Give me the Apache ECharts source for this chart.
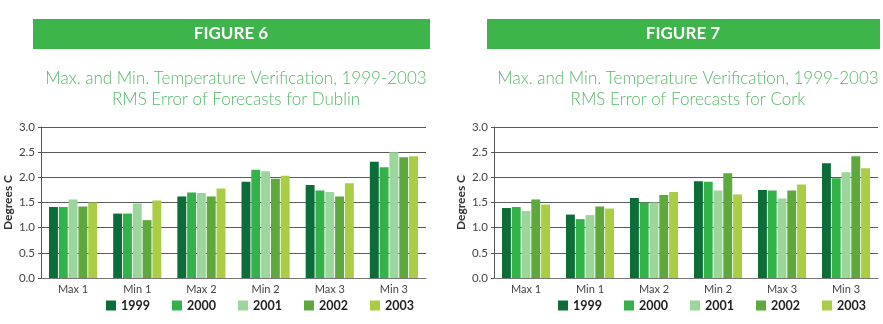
<!DOCTYPE html>
<html>
<head>
<meta charset="utf-8">
<script src="https://cdn.jsdelivr.net/npm/echarts@6/dist/echarts.min.js"></script>
<style>
  html, body { margin: 0; padding: 0; background: #fff; }
  #chart { width: 883px; height: 324px; }
</style>
</head>
<body>
<div id="chart"></div>
<script>
const chartElement = document.getElementById('chart');
const myChart = echarts.init(chartElement);

const categories = ['Max 1', 'Min 1', 'Max 2', 'Min 2', 'Max 3', 'Min 3'];
const years = ['1999', '2000', '2001', '2002', '2003'];
const yearColors = ['#0b6e38', '#34b24a', '#9cd69c', '#5fa83e', '#a9cd45'];

// RMS error, Dublin (figure 6), one array per year
const dublin1999 = [1.41, 1.28, 1.62, 1.91, 1.85, 2.31];
const dublin2000 = [1.41, 1.28, 1.70, 2.15, 1.74, 2.20];
const dublin2001 = [1.56, 1.48, 1.69, 2.12, 1.71, 2.50];
const dublin2002 = [1.42, 1.15, 1.62, 1.97, 1.62, 2.40];
const dublin2003 = [1.50, 1.54, 1.78, 2.03, 1.88, 2.42];

// RMS error, Cork (figure 7)
const cork1999 = [1.39, 1.26, 1.59, 1.92, 1.75, 2.28];
const cork2000 = [1.41, 1.17, 1.50, 1.91, 1.74, 1.98];
const cork2001 = [1.33, 1.25, 1.50, 1.74, 1.58, 2.10];
const cork2002 = [1.56, 1.42, 1.65, 2.08, 1.74, 2.42];
const cork2003 = [1.46, 1.38, 1.71, 1.66, 1.86, 2.18];

const dublin = [dublin1999, dublin2000, dublin2001, dublin2002, dublin2003];
const cork = [cork1999, cork2000, cork2001, cork2002, cork2003];

const font = 'Lato, "Open Sans", sans-serif';
const titleGreen = '#55b967';
const bannerGreen = '#3db54b';

const makeX = (gridIndex) => ({
    type: 'category',
    gridIndex,
    data: categories,
    axisLine: {lineStyle: {color: '#777'}},
    axisTick: {show: false},
    axisLabel: {color: '#444', fontSize: 11, fontFamily: font, margin: 6},
});

const makeY = (gridIndex) => ({
    type: 'value',
    gridIndex,
    min: 0,
    max: 3,
    interval: 0.5,
    name: 'Degrees C',
    nameLocation: 'middle',
    nameRotate: 90,
    nameGap: 27,
    nameTextStyle: {color: '#333', fontSize: 12, fontWeight: 'bold', fontFamily: font},
    axisLine: {show: true, lineStyle: {color: '#555'}},
    axisTick: {show: true, length: 3, lineStyle: {color: '#555'}},
    axisLabel: {color: '#444', fontSize: 11.5, fontFamily: font, margin: 6,
        formatter: (v) => v.toFixed(1)},
    splitLine: {lineStyle: {color: '#5a5a5a', width: 1}},
});

const makeSeries = (values, idx) =>
    values.map((vals, i) => ({
        name: years[i],
        type: 'bar',
        xAxisIndex: idx,
        yAxisIndex: idx,
        data: vals,
        barGap: '10%',
        barCategoryGap: '25%',
        itemStyle: {color: yearColors[i]},
        animation: false,
    }));

const makeLegend = (left) => ({
    data: years,
    left,
    top: 294,
    itemWidth: 10,
    itemHeight: 10,
    itemGap: 22,
    icon: 'rect',
    textStyle: {color: '#222', fontSize: 12.5, fontWeight: 'bold', fontFamily: font},
    selectedMode: false,
});

const option = {
    backgroundColor: '#fff',
    animation: false,
    graphic: [
        {type: 'rect', shape: {x: 33, y: 19, width: 397, height: 30}, style: {fill: bannerGreen}},
        {type: 'rect', shape: {x: 487, y: 19, width: 393, height: 30}, style: {fill: bannerGreen}},
        {type: 'text', x: 231, y: 34, style: {text: 'FIGURE 6', fill: '#fff', font: 'bold 17px ' + font,
            textAlign: 'center', textVerticalAlign: 'middle'}},
        {type: 'text', x: 683, y: 34, style: {text: 'FIGURE 7', fill: '#fff', font: 'bold 17px ' + font,
            textAlign: 'center', textVerticalAlign: 'middle'}},
    ],
    title: [
        {
            text: 'Max. and Min. Temperature Verification, 1999-2003\nRMS Error of Forecasts for Dublin',
            left: 231, top: 63, textAlign: 'center',
            textStyle: {color: titleGreen, fontSize: 17, fontWeight: 300, fontFamily: font, lineHeight: 21},
        },
        {
            text: 'Max. and Min. Temperature Verification, 1999-2003\nRMS Error of Forecasts for Cork',
            left: 683, top: 63, textAlign: 'center',
            textStyle: {color: titleGreen, fontSize: 17, fontWeight: 300, fontFamily: font, lineHeight: 21},
        },
    ],
    legend: [makeLegend(101), makeLegend(553)],
    grid: [
        {left: 41, right: 457, top: 127, bottom: 46},
        {left: 494, right: 5, top: 127, bottom: 46},
    ],
    xAxis: [makeX(0), makeX(1)],
    yAxis: [makeY(0), makeY(1)],
    series: [...makeSeries(dublin, 0), ...makeSeries(cork, 1)],
};

myChart.setOption(option);
</script>
</body>
</html>
